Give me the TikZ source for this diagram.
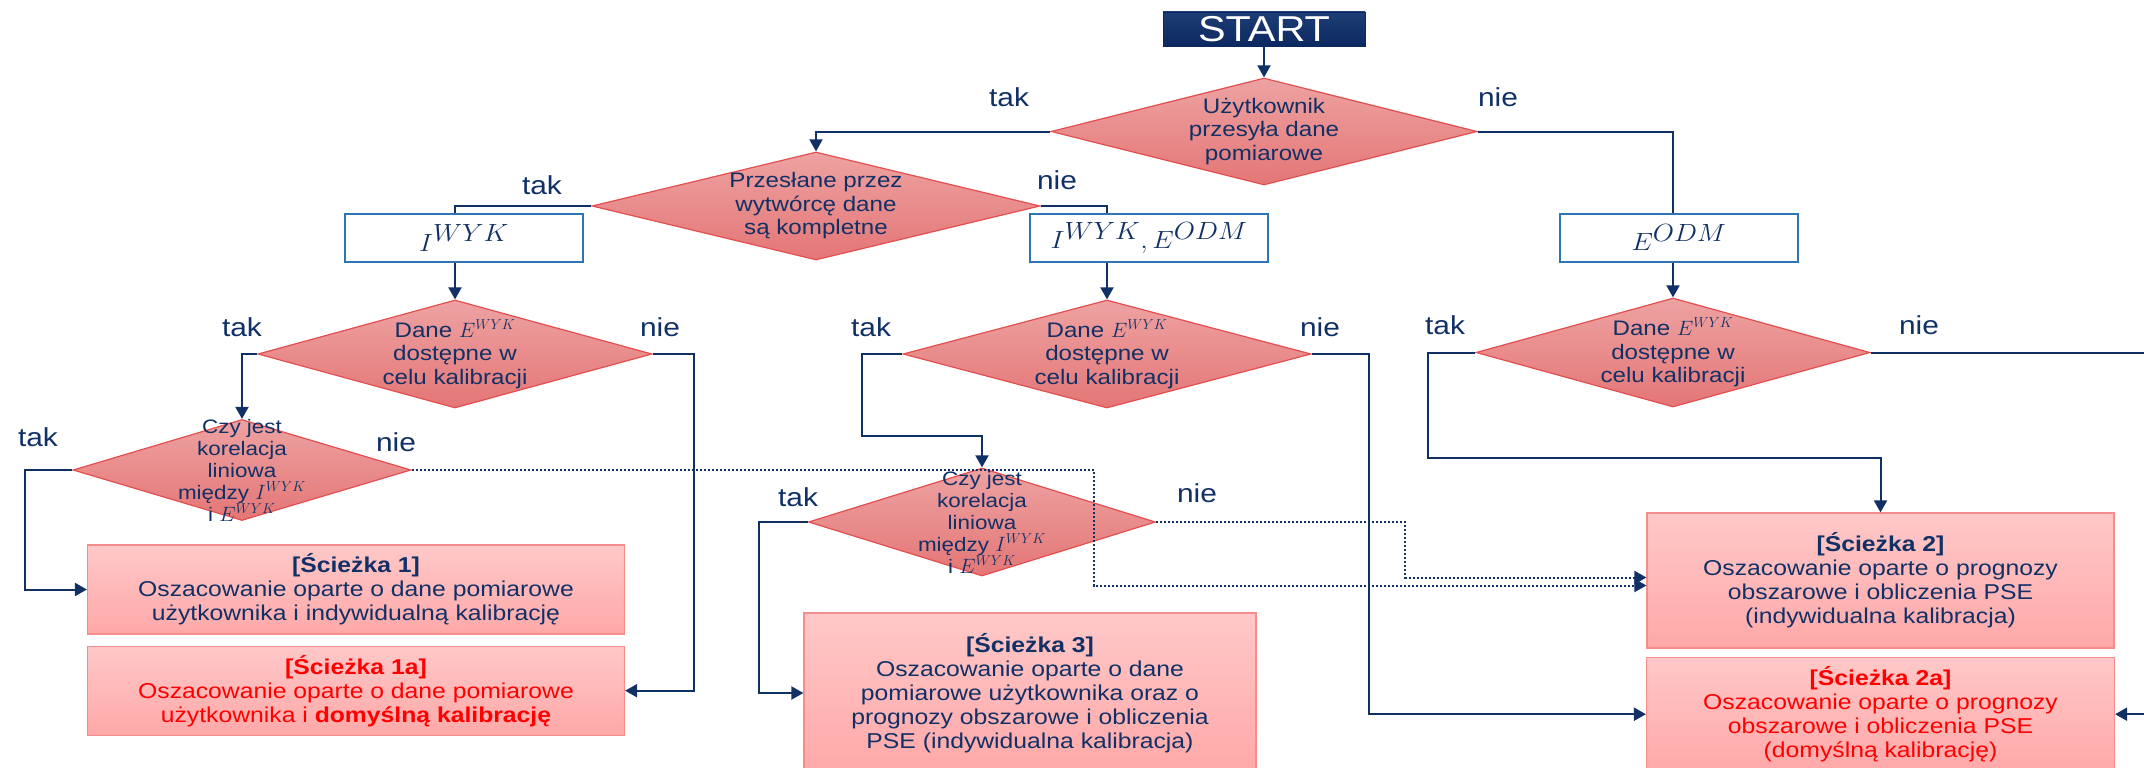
\documentclass[tikz,border=0pt]{standalone}
\usepackage{fontspec}
\setmainfont{Liberation Sans}[FakeStretch=1.15]
\usepackage{tikz}
\usetikzlibrary{arrows.meta}
\usetikzlibrary{positioning}
\usetikzlibrary{shapes.geometric}

\definecolor{navy}{RGB}{17,48,102}
\definecolor{startfill}{RGB}{12,40,96}
\definecolor{starttop}{RGB}{30,62,118}
\definecolor{decborder}{RGB}{228,78,78}
\definecolor{dectop}{RGB}{238,162,162}
\definecolor{decbot}{RGB}{228,118,118}
\definecolor{pathborder}{RGB}{246,140,140}
\definecolor{pathtop}{RGB}{255,200,200}
\definecolor{pathbot}{RGB}{255,168,168}
\definecolor{boxblue}{RGB}{46,117,182}

\newcommand{\startfont}{\fontsize{36}{36}\selectfont}
\newcommand{\decisionfont}{\fontsize{21}{23.5}\selectfont}
\newcommand{\smalldecfont}{\fontsize{19.5}{22}\selectfont}
\newcommand{\sciezkafont}{\fontsize{21.5}{24}\selectfont}
\newcommand{\answerfont}{\fontsize{26}{26}\selectfont}
\newcommand{\mathboxfont}{\fontsize{40}{40}\selectfont}
\newcommand{\widemath}[1]{\scalebox{1.1}[1]{#1}}

\begin{document}
\begin{tikzpicture}
  [
    x = 1pt, y = -1pt,
    every node/.style = {text = navy},
    startbox/.style = {rectangle, draw = startfill, top color = starttop, bottom color = startfill,
                       text = white, minimum width = 202pt, minimum height = 34pt,
                       inner sep = 0pt, font = \startfont},
    decision/.style = {diamond, draw = decborder, line width = 1.2pt,
                       top color = dectop, bottom color = decbot, inner sep = 0pt},
    dtext/.style = {align = center, inner sep = 0pt, font = \decisionfont},
    dtextsmall/.style = {dtext, font = \smalldecfont},
    databox/.style = {rectangle, draw = boxblue, line width = 2pt, fill = white,
                      minimum width = 238pt, minimum height = 48pt, inner sep = 0pt,
                      font = \mathboxfont},
    pathbox/.style = {rectangle, draw = pathborder, line width = 1.2pt,
                      top color = pathtop, bottom color = pathbot,
                      align = center, inner sep = 0pt, font = \sciezkafont},
    altbox/.style = {pathbox, text = red},
    answer/.style = {font = \answerfont, inner sep = 0pt},
    link/.style = {draw = navy, line width = 2pt},
    arrow/.style = {link, -{Triangle[length = 12pt, width = 13pt]}},
    dotarrow/.style = {arrow, dotted},
  ]

  \useasboundingbox (0,0) rectangle (2144,768);
  \clip (0,0) rectangle (2144,768);

  \node[startbox] (start) at (1264, 29) {START};

  \node[decision, minimum width = 426pt, minimum height = 107pt,
        label = {[dtext]center:{Użytkownik\\przesyła dane\\pomiarowe}}] (d1) at (1264, 131.5) {};
  \node[decision, minimum width = 448pt, minimum height = 108pt,
        label = {[dtext]center:{Przesłane przez\\wytwórcę dane\\są kompletne}}] (d2) at (816, 206) {};

  \node[databox] (iwyk) at (464, 238) {\widemath{$I^{WYK}$}};
  \node[databox] (iwe) at (1149, 238) {\widemath{$I^{WYK}, E^{ODM}$}};
  \node[databox] (eodm) at (1679, 237.5) {\widemath{$E^{ODM}$}};

  \node[decision, minimum width = 394pt, minimum height = 108pt,
        label = {[dtext]center:{Dane $E^{WYK}$\\dostępne w\\celu kalibracji}}] (d3) at (455, 354) {};
  \node[decision, minimum width = 338pt, minimum height = 101pt,
        label = {[dtextsmall]center:{Czy jest\\korelacja\\liniowa\\między $I^{WYK}$\\i $E^{WYK}$}}] (d4) at (242, 470) {};
  \node[decision, minimum width = 408pt, minimum height = 108pt,
        label = {[dtext]center:{Dane $E^{WYK}$\\dostępne w\\celu kalibracji}}] (d5) at (1107, 354) {};
  \node[decision, minimum width = 347pt, minimum height = 108pt,
        label = {[dtextsmall]center:{Czy jest\\korelacja\\liniowa\\między $I^{WYK}$\\i $E^{WYK}$}}] (d6) at (982, 522) {};
  \node[decision, minimum width = 394pt, minimum height = 109pt,
        label = {[dtext]center:{Dane $E^{WYK}$\\dostępne w\\celu kalibracji}}] (d7) at (1673, 352.5) {};

  \node[pathbox, minimum width = 537pt, minimum height = 89pt] (box1) at (356, 589.5)
    {\textbf{[Ścieżka 1]}\\Oszacowanie oparte o dane pomiarowe\\użytkownika i indywidualną kalibrację};
  \node[altbox, minimum width = 537pt, minimum height = 89pt, below = 11pt of box1] (box1a)
    {\textbf{[Ścieżka 1a]}\\Oszacowanie oparte o dane pomiarowe\\użytkownika i \textbf{domyślną kalibrację}};
  \node[pathbox, minimum width = 452pt, minimum height = 160pt] (box3) at (1030, 693)
    {\textbf{[Ścieżka 3]}\\Oszacowanie oparte o dane\\pomiarowe użytkownika oraz o\\prognozy obszarowe i obliczenia\\PSE (indywidualna kalibracja)};
  \node[pathbox, minimum width = 467pt, minimum height = 135pt] (box2) at (1880.5, 580.5)
    {\textbf{[Ścieżka 2]}\\Oszacowanie oparte o prognozy\\obszarowe i obliczenia PSE\\(indywidualna kalibracja)};
  \node[altbox, minimum width = 468pt, minimum height = 114pt, below = 8pt of box2] (box2a)
    {\textbf{[Ścieżka 2a]}\\Oszacowanie oparte o prognozy\\obszarowe i obliczenia PSE\\(domyślną kalibrację)};

  \node[answer] (tak1) at (1009, 97) {tak};
  \node[answer] (nie1) at (1498, 97) {nie};
  \node[answer] (tak2) at (542, 185) {tak};
  \node[answer] (nie2) at (1057, 180) {nie};
  \node[answer] (tak3) at (242, 327) {tak};
  \node[answer] (nie3) at (660, 327) {nie};
  \node[answer] (tak4) at (38, 437) {tak};
  \node[answer] (nie4) at (396, 442) {nie};
  \node[answer] (tak5) at (871, 327) {tak};
  \node[answer] (nie5) at (1320, 327) {nie};
  \node[answer] (tak6) at (798, 497) {tak};
  \node[answer] (nie6) at (1197, 493) {nie};
  \node[answer] (tak7) at (1445, 325) {tak};
  \node[answer] (nie7) at (1919, 325) {nie};

  % top of the tree
  \draw[arrow] (start) -- (d1);
  \draw[arrow] (d1.west) -| (d2.north);
  \draw[link] (d1.east) -| (d7 |- eodm.north);
  \draw[link] (d2.west) -| (d3 |- iwyk.north);
  \draw[link] (d2.east) -| (d5 |- iwe.north);
  \draw[arrow] (d3 |- iwyk.south) -- (d3.north);
  \draw[arrow] (d5 |- iwe.south) -- (d5.north);
  \draw[arrow] (d7 |- eodm.south) -- (d7.north);

  % left branch
  \draw[arrow] (d3.west) -| (d4.north);
  \draw[arrow] (d4.west) -- ++(-47, 0) |- (box1.west);
  \draw[arrow] (d3.east) -- ++(41, 0) |- (box1a.east);

  % middle branch
  \draw[arrow] (d5.west) -- ++(-40, 0) |- ([yshift = 31pt]d6.north) -- (d6.north);
  \draw[arrow] (d5.east) -- ++(57, 0) |- (box2a.west);
  \draw[arrow] (d6.west) -- ++(-49, 0) |- (box3.west);

  % right branch
  \draw[arrow] (d7.west) -- ++(-47, 0) |- ([yshift = 54pt]box2.north) -- (box2.north);
  \draw[arrow] (d7.east) -- ++(320, 0) |- (box2a.east);

  % no correlation
  \draw[dotarrow] (d4.east) -- ++(682, 0) |- ([yshift = -5pt]box2.west);
  \draw[dotarrow] (d6.east) -- ++(249, 0) |- ([yshift = 3pt]box2.west);

\end{tikzpicture}
\end{document}
